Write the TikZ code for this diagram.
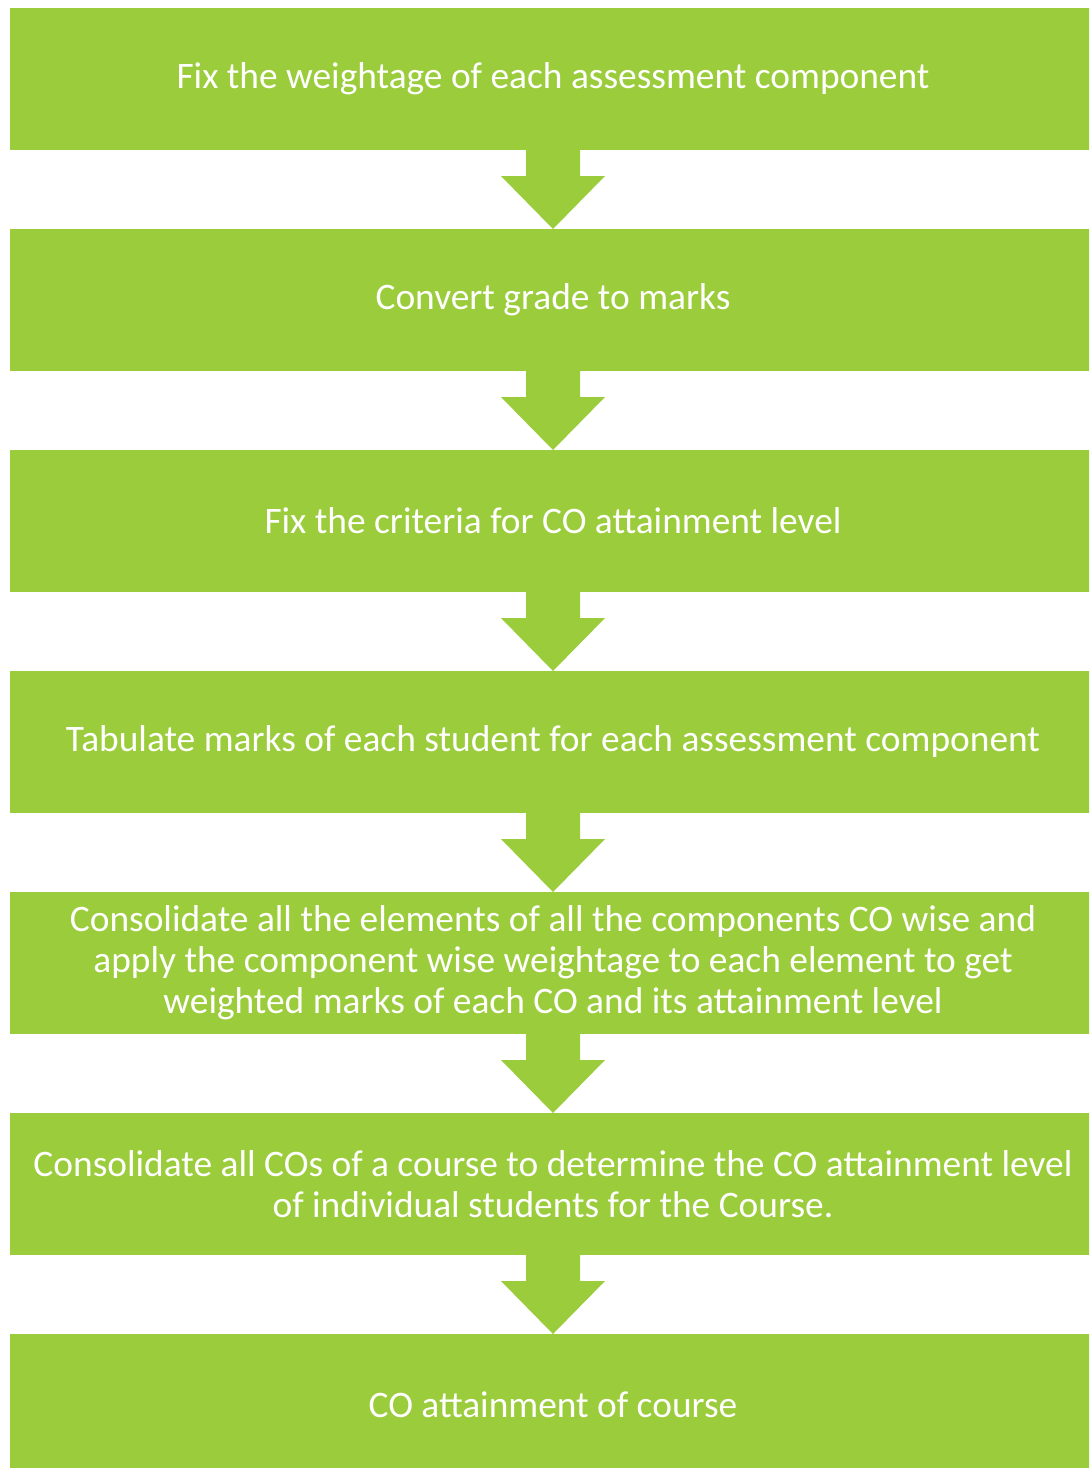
\documentclass[tikz,border=0pt]{standalone}
\usepackage{fontspec}
\setmainfont{Carlito}
\usetikzlibrary{positioning,calc}
\definecolor{stepgreen}{RGB}{155,204,59}
\tikzset{
  stepbox/.style={fill=stepgreen,text=white,inner sep=0pt,outer sep=0pt,align=center,
    minimum width=543pt,minimum height=71pt,
    font=\fontsize{18.7}{20.5}\selectfont},
}
% block arrow from the bottom of one box to the top of the next
\newcommand*{\steparrow}[2]{%
  \fill[stepgreen] ($(#1.south)+(-27,0)$) -- ($(#1.south)+(27,0)$)
    -- ($(#1.south)+(27,26)$) -- ($(#1.south)+(52,26)$) -- (#2.north)
    -- ($(#1.south)+(-52,26)$) -- ($(#1.south)+(-27,26)$) -- cycle;}

\begin{document}
\begin{tikzpicture}[x=0.5pt,y=-0.5pt,node distance=39.5pt]
\clip (0,0) rectangle (1089,1468);
% Units are pixels, y pointing down

% Steps
\node[stepbox] (weight) at (553,79) {Fix the weightage of each assessment component};
\node[stepbox,below=of weight] (grade) {Convert grade to marks};
\node[stepbox,below=of grade] (criteria) {Fix the criteria for CO attainment level};
\node[stepbox,below=of criteria] (tabulate) {Tabulate marks of each student for each assessment component};
\node[stepbox,below=of tabulate] (consolidate) {Consolidate all the elements of all the components CO wise and\\
  apply the component wise weightage to each element to get\\
  weighted marks of each CO and its attainment level};
\node[stepbox,below=of consolidate] (course) {Consolidate all COs of a course to determine the CO attainment level\\
  of individual students for the Course.};
\node[stepbox,below=of course] (result) {CO attainment of course};

% Arrows between steps
\steparrow{weight}{grade}
\steparrow{grade}{criteria}
\steparrow{criteria}{tabulate}
\steparrow{tabulate}{consolidate}
\steparrow{consolidate}{course}
\steparrow{course}{result}

\end{tikzpicture}
\end{document}
